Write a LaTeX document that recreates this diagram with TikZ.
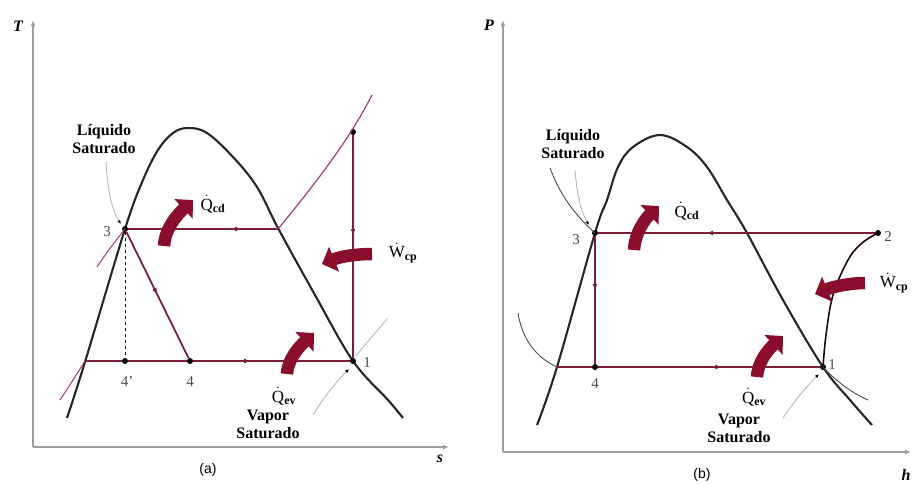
\documentclass[tikz,border=0pt]{standalone}
\usepackage{amsmath}
\usepackage{fontspec}
\setmainfont{Liberation Serif}
\newfontfamily\capfont{Liberation Sans}
\usetikzlibrary{arrows.meta,decorations.markings}

\definecolor{cycred}{RGB}{122,32,52}
\definecolor{fanred}{RGB}{138,14,44}
\definecolor{isored}{RGB}{172,62,88}

\newcommand{\rateof}[2]{$\dot{\mathrm{#1}}_{\textbf{#2}}$}

\begin{document}
\begin{tikzpicture}[x=1pt, y=-1pt,
	dome/.style={draw=black!85, line width=2.1pt},
	cyc/.style={color=cycred, line width=1.8pt},
	midarrow/.style={postaction={decorate, decoration={markings, mark=at position #1 with {\arrow{Latex[length=7pt,width=5pt]}}}}},
	pt/.style={circle, fill=black, inner sep=0pt, minimum size=6pt},
	num/.style={font=\fontsize{15}{15}\selectfont, text=black!70},
	tag/.style={font=\bfseries\fontsize{16}{18}\selectfont, align=center},
	flow/.style={font=\fontsize{17}{17}\selectfont},
	fan/.style={draw=fanred, line width=12.5pt, -{Triangle[width=26pt,length=13pt]}},
	ptr/.style={draw=gray!55, line width=0.9pt, -{Latex[length=4pt,width=3.5pt,color=black]}},
	thin/.style={draw=black!70, line width=0.9pt},
	axis/.style={draw=gray!75, line width=1.6pt, -{Latex[length=6pt,width=5pt]}},
	axlabel/.style={font=\bfseries\itshape\fontsize{16}{16}\selectfont}]
	\useasboundingbox (0,0) rectangle (913,483);

	% (a) T-s
	\coordinate (Oa) at (33,447);
	\coordinate (Ta) at (33,20);
	\coordinate (Sa) at (449,447);
	\draw[axis] (Oa) -- (Ta);
	\draw[axis] (Oa) -- (Sa);
	\node[axlabel] (labT) at (18,26) {T};
	\node[axlabel] (labs) at (440,459) {s};
	\node[font=\capfont\fontsize{14}{14}\selectfont] (capa) at (208,470) {(a)};

	\draw[dome] plot[smooth, tension=0.6] coordinates {(67,418) (85,362) (125,229) (143,180) (158,150) (173,133) (188,128) (207,133) (233,157) (257,187) (278,228) (315,295) (353,361) (388,400) (403,418)};

	\node[pt] (a3) at (125,229) {};
	\node[pt] (a4p) at (125,361) {};
	\node[pt] (a4) at (190,361) {};
	\node[pt] (a1) at (353,361) {};
	\node[pt] (a2) at (353,132) {};
	\coordinate (a3v) at (278,229);
	\coordinate (a4l) at (85,361);

	\draw[isored, line width=1.2pt] (a3v) .. controls (320,178) and (350,138) .. (372,95);
	\draw[isored, line width=1pt] (60,400) .. controls (70,385) and (78,372) .. (a4l);
	\draw[isored, line width=1pt] (97,267) .. controls (107,252) and (116,240) .. (a3.center);
	\draw[ptr] (106,162) .. controls (108,195) and (113,212) .. (121,224);
	\draw[ptr] (313,415) .. controls (325,395) and (338,380) .. (349,369);
	\draw[draw=gray!55, line width=0.9pt] (356,356) .. controls (366,343) and (378,330) .. (387,319);

	\draw[cyc, midarrow=0.32] (a3v) -- (a3);
	\draw[cyc, midarrow=0.5] (a3) -- (a4);
	\draw[cyc] (a4l) -- (a4p) -- (a4);
	\draw[cyc, midarrow=0.37] (a4) -- (a1);
	\draw[cyc, midarrow=0.6] (a1) -- (a2);
	\draw[dashed, line width=1pt] (a3) -- (a4p);

	\draw[fan] (164,246) .. controls (165,228) and (178,214) .. (193,200);
	\draw[fan] (372,254) .. controls (358,254) and (342,256) .. (322,264);
	\draw[fan] (287,374) .. controls (288,358) and (300,346) .. (314,333);

	\node[num] (n3a) at (107,232) {3};
	\node[num] (n4pa) at (127,382) {4'};
	\node[num] (n4a) at (190,382) {4};
	\node[num] (n1a) at (367,363) {1};
	\node[tag] (liqa) at (104,139) {Líquido\\Saturado};
	\node[tag] (vapa) at (268,424) {Vapor\\Saturado};
	\node[flow] (qcda) at (213,204) {\rateof{Q}{cd}};
	\node[flow] (wcpa) at (403,253) {\rateof{W}{cp}};
	\node[flow] (qeva) at (284,396) {\rateof{Q}{ev}};

	% (b) P-h
	\coordinate (Ob) at (503,452);
	\coordinate (Pb) at (503,20);
	\coordinate (Hb) at (911,452);
	\draw[axis] (Ob) -- (Pb);
	\draw[axis] (Ob) -- (Hb);
	\node[axlabel] (labP) at (489,25) {P};
	\node[axlabel] (labh) at (906,475) {h};
	\node[font=\capfont\fontsize{14}{14}\selectfont] (capb) at (702,475) {(b)};

	\draw[dome] plot[smooth, tension=0.6] coordinates {(537,425) (557,367) (595,233) (607,200) (618,167) (633,147) (660,135) (687,147) (707,167) (727,200) (747,233) (783,300) (823,367) (850,400) (872,425)};

	\node[pt] (b3) at (595,233) {};
	\node[pt] (b2) at (878,233) {};
	\node[pt] (b4) at (595,367) {};
	\node[pt] (b1) at (823,367) {};
	\coordinate (b4l) at (557,367);

	\draw[thin] (550,168) .. controls (560,195) and (575,215) .. (b3.center);
	\draw[thin] (518,313) .. controls (522,338) and (535,357) .. (b4l);
	\draw[thin] (b1.center) .. controls (835,380) and (850,392) .. (868,400);
	\draw[ptr] (575,170) .. controls (577,195) and (581,212) .. (589,225);
	\draw[ptr] (783,418) .. controls (795,400) and (808,385) .. (819,374);

	\draw[cyc, midarrow=0.61] (b2) -- (b3);
	\draw[cyc, midarrow=0.43] (b3) -- (b4);
	\draw[cyc] (b4l) -- (b4);
	\draw[cyc, midarrow=0.56] (b4) -- (b1);
	\draw[draw=black!75!cycred, line width=1.6pt] plot[smooth, tension=0.6] coordinates {(b1.center) (826,335) (833,295) (848,260) (862,243) (b2.center)};

	\draw[fan] (634,250) .. controls (635,232) and (646,218) .. (659,206);
	\draw[fan] (865,283) .. controls (852,283) and (835,286) .. (815,294);
	\draw[fan] (757,377) .. controls (758,360) and (770,348) .. (783,336);

	\node[num] (n3b) at (576,240) {3};
	\node[num] (n2b) at (888,237) {2};
	\node[num] (n4b) at (595,384) {4};
	\node[num] (n1b) at (832,365) {1};
	\node[tag] (liqb) at (573,144) {Líquido\\Saturado};
	\node[tag] (vapb) at (739,428) {Vapor\\Saturado};
	\node[flow] (qcdb) at (687,211) {\rateof{Q}{cd}};
	\node[flow] (wcpb) at (894,283) {\rateof{W}{cp}};
	\node[flow] (qevb) at (754,397) {\rateof{Q}{ev}};
\end{tikzpicture}
\end{document}
